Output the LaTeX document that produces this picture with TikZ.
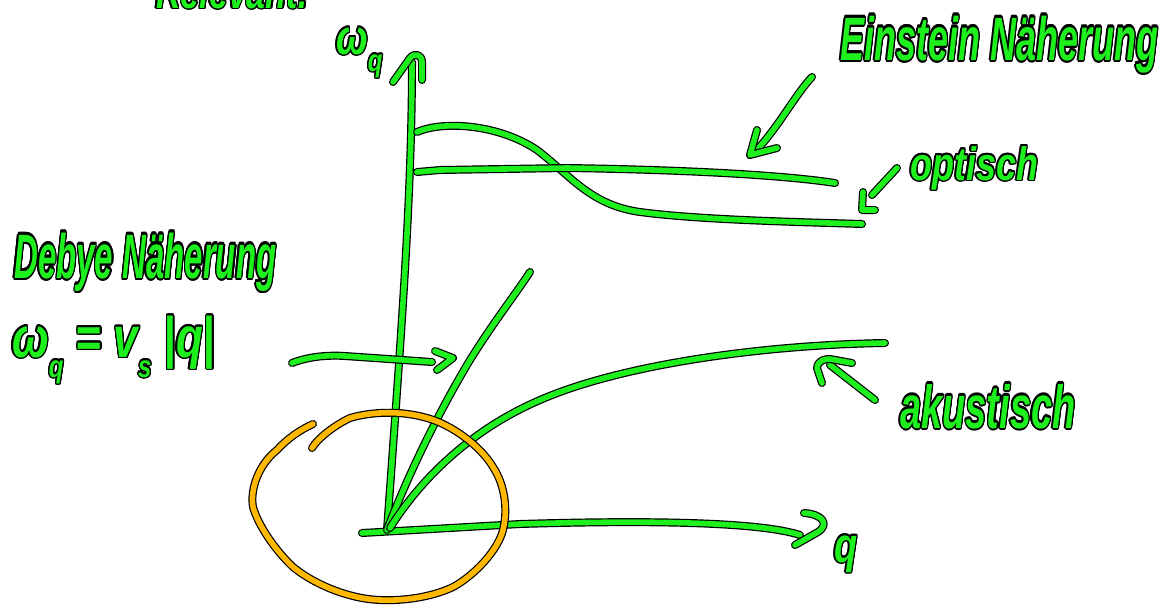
\documentclass[tikz,border=0pt]{standalone}
\usepackage{fontspec}
\setmainfont{Liberation Sans}
\usepackage{contour}
\contourlength{1.3pt}
\definecolor{grn}{RGB}{30,240,30}
\definecolor{org}{RGB}{255,184,0}
\newcommand{\lowsub}[1]{\raisebox{-0.35em}{\fontsize{24}{26}\selectfont #1}}
\newcommand{\handtxt}[3]{\scalebox{1}[#1]{\fontsize{#2}{#2}\selectfont\contour{black}{#3}}}
\tikzset{
  pen/.style={line width=1.2pt, double=grn, double distance=5.6pt, line cap=round, line join=round},
  openpen/.style={pen, double=org},
  hand/.style={inner sep=0pt, text=grn, font=\bfseries\itshape}
}
\begin{document}
\begin{tikzpicture}[x=1pt,y=-1pt]
\useasboundingbox (0,0) rectangle (1170,606);
\clip (0,0) rectangle (1170,606);
% texts
\node[hand, anchor=base west] (rel) at (156,8) {\handtxt{1.4}{34}{Relevant:}};
\node[hand, anchor=base west] (wq) at (336,54) {\handtxt{1.3}{38}{ω\lowsub{q}}};
\node[hand, anchor=base west] (ein) at (840,60) {\handtxt{1.7}{36}{Einstein Näherung}};
\node[hand, anchor=base west] (opt) at (910,180) {\handtxt{1.3}{36}{optisch}};
\node[hand, anchor=base west] (deb) at (14,278) {\handtxt{1.9}{33}{Debye Näherung}};
\node[hand, anchor=base west] (form) at (12,357) {\handtxt{1.3}{44}{ω\lowsub{q} = v\lowsub{s} |q|}};
\node[hand, anchor=base west] (aku) at (900,428) {\handtxt{1.6}{38}{akustisch}};
\node[hand, anchor=base west] (q) at (834,562) {\handtxt{1.3}{38}{q}};
% axes
\draw[pen] (387,530) .. controls (400,350) and (412,200) .. (412,62);
\draw[pen] (393,82) -- (410,58) .. controls (415,52) and (422,55) .. (422,62) -- (422,80);
\draw[pen] (362,533) -- (520,524) .. controls (650,520) and (760,522) .. (800,535);
\draw[pen] (804,513) .. controls (822,514) and (830,524) .. (818,532) -- (795,545);
% optical branches
\draw[pen] (417,132) .. controls (445,120) and (500,125) .. (537,150)
  .. controls (570,175) and (590,205) .. (640,212) .. controls (700,220) and (800,222) .. (862,224);
\draw[pen] (417,172) -- (440,170) -- (567,168) .. controls (700,170) and (790,176) .. (835,183);
% acoustic and Debye
\draw[pen] (387,530) .. controls (410,470) and (440,410) .. (470,360) .. controls (495,320) and (515,295) .. (530,272);
\draw[pen] (390,528) .. controls (420,480) and (470,430) .. (540,400) .. controls (620,365) and (760,345) .. (885,343);
% Einstein arrow
\draw[pen] (812,77) .. controls (795,95) and (780,125) .. (755,152);
\draw[pen] (757,130) -- (750,155) -- (777,148);
% optisch arrow
\draw[pen] (897,168) -- (872,195);
\draw[pen] (863,192) -- (862,210) -- (875,210);
% akustisch arrow
\draw[pen] (875,400) -- (830,365);
\draw[pen] (822,383) -- (817,368) .. controls (818,360) and (825,359) .. (830,359) -- (852,363);
% Debye arrow
\draw[pen] (292,363) .. controls (310,356) and (330,355) .. (345,356) -- (432,362);
\draw[pen] (435,351) -- (453,358) -- (437,370);
% orange circle
\draw[openpen] (312,448) .. controls (318,438) and (335,425) .. (350,418)
  .. controls (370,412) and (400,410) .. (427,418)
  .. controls (450,424) and (480,445) .. (493,467)
  .. controls (505,485) and (508,510) .. (503,530)
  .. controls (498,550) and (475,575) .. (453,587)
  .. controls (430,598) and (400,601) .. (380,600)
  .. controls (350,599) and (315,585) .. (293,567)
  .. controls (275,550) and (258,525) .. (253,507)
  .. controls (250,490) and (258,465) .. (277,450)
  .. controls (288,438) and (300,430) .. (313,424);
\end{tikzpicture}
\end{document}
